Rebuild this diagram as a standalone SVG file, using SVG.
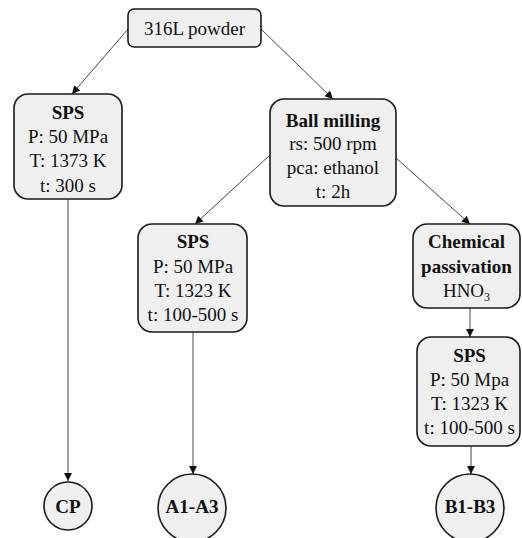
<svg xmlns="http://www.w3.org/2000/svg" width="522" height="538" viewBox="0 0 522 538">
<defs>
<marker id="ah" viewBox="0 0 10 10" refX="10" refY="5" markerWidth="8" markerHeight="8" markerUnits="userSpaceOnUse" orient="auto">
<path d="M0,0 L10,5 L0,10 z" fill="#111"/>
</marker>
<style>
.box{fill:#efefef;stroke:#1a1a1a;stroke-width:1.6}
.t{font-family:'Liberation Serif','Tinos','Times New Roman','DejaVu Serif',serif;font-size:19px;fill:#111;text-anchor:middle}
.b{font-weight:bold}
.c{stroke:#444;stroke-width:1;fill:none;marker-end:url(#ah)}
</style>
</defs>
<rect width="522" height="538" fill="#fff"/>
<g id="connectors">
<line class="c" x1="128" y1="29" x2="72" y2="94"/>
<line class="c" x1="261" y1="29" x2="333" y2="99"/>
<line class="c" x1="270" y1="155" x2="195" y2="224"/>
<line class="c" x1="396" y1="158" x2="470" y2="224"/>
<line class="c" x1="470" y1="308" x2="470" y2="337"/>
<line class="c" x1="68" y1="199" x2="68" y2="481"/>
<line class="c" x1="193" y1="332" x2="193" y2="474"/>
<line class="c" x1="471" y1="446" x2="471" y2="474"/>
</g>
<g id="powder">
<rect class="box" x="128" y="9" width="133" height="38" rx="6"/>
<text class="t" x="194.5" y="35" font-family="Liberation Serif, serif">316L powder</text>
</g>
<g id="sps1">
<rect class="box" x="14" y="94" width="108" height="105" rx="14"/>
<text class="t b" x="68" y="119">SPS</text>
<text class="t" x="68" y="143">P: 50 MPa</text>
<text class="t" x="68" y="167">T: 1373 K</text>
<text class="t" x="68" y="192">t: 300 s</text>
</g>
<g id="ballmill">
<rect class="box" x="270" y="99" width="126" height="107" rx="14"/>
<text class="t b" x="333" y="127">Ball milling</text>
<text class="t" x="333" y="150">rs: 500 rpm</text>
<text class="t" x="333" y="174">pca: ethanol</text>
<text class="t" x="333" y="198">t: 2h</text>
</g>
<g id="sps2">
<rect class="box" x="138" y="224" width="109" height="108" rx="14"/>
<text class="t b" x="193" y="248">SPS</text>
<text class="t" x="193" y="273">P: 50 MPa</text>
<text class="t" x="193" y="297">T: 1323 K</text>
<text class="t" x="193" y="321">t: 100-500 s</text>
</g>
<g id="chem">
<rect class="box" x="413" y="224" width="107" height="84" rx="14"/>
<text class="t b" x="466.5" y="248">Chemical</text>
<text class="t b" x="466.5" y="273">passivation</text>
<text class="t" x="466.5" y="297">HNO<tspan font-size="12" dy="4">3</tspan></text>
</g>
<g id="sps3">
<rect class="box" x="417" y="337" width="103" height="109" rx="14"/>
<text class="t b" x="469.5" y="362">SPS</text>
<text class="t" x="469.5" y="386">P: 50 Mpa</text>
<text class="t" x="469.5" y="410">T: 1323 K</text>
<text class="t" x="469.5" y="434">t: 100-500 s</text>
</g>
<g id="cp">
<circle class="box" cx="68" cy="506" r="24"/>
<text class="t b" x="68" y="513">CP</text>
</g>
<g id="a1a3">
<circle class="box" cx="192" cy="508" r="34"/>
<text class="t b" x="192" y="513">A1-A3</text>
</g>
<g id="b1b3">
<circle class="box" cx="470" cy="508" r="34"/>
<text class="t b" x="470" y="513">B1-B3</text>
</g>
</svg>
